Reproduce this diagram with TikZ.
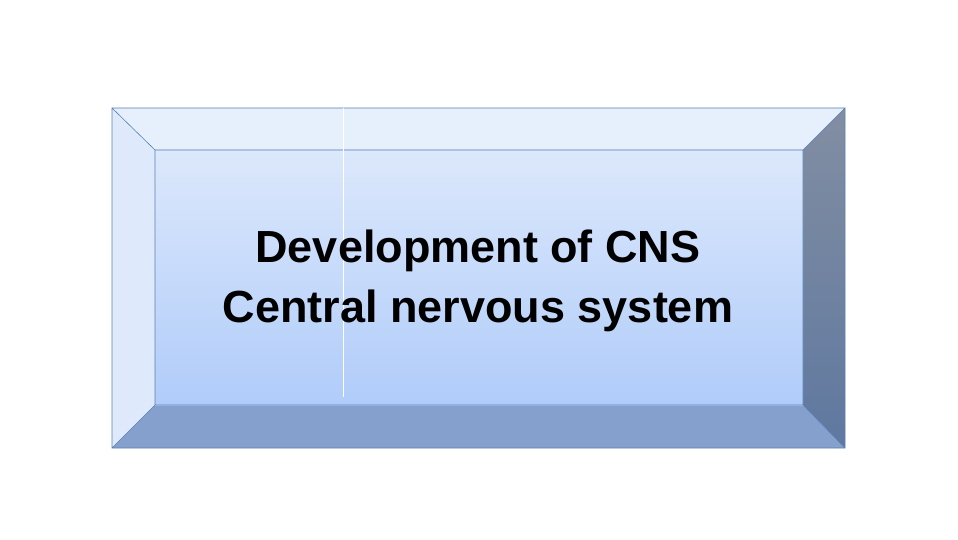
\documentclass[tikz,border=0pt]{standalone}
\usepackage{fontspec}
\setmainfont{Liberation Sans}
\begin{document}
\begin{tikzpicture}[x=1pt,y=-1pt]
\definecolor{edge}{HTML}{5B80B0}
\useasboundingbox (0,0) rectangle (958,540);
\coordinate (A) at (112,108); \coordinate (B) at (845,108);
\coordinate (C) at (845,448); \coordinate (D) at (112,448);
\coordinate (a) at (155,150); \coordinate (b) at (803,150);
\coordinate (c) at (803,405); \coordinate (d) at (155,405);
\fill[color={rgb,255:red,230;green,239;blue,252}] (A)--(B)--(b)--(a)--cycle;
\fill[color={rgb,255:red,222;green,234;blue,252}] (A)--(a)--(d)--(D)--cycle;
\shade[top color={rgb,255:red,130;green,142;blue,162}, bottom color={rgb,255:red,95;green,120;blue,160}] (B)--(C)--(c)--(b)--cycle;
\fill[color={rgb,255:red,133;green,160;blue,204}] (D)--(C)--(c)--(d)--cycle;
\shade[top color={rgb,255:red,220;green,232;blue,251}, bottom color={rgb,255:red,176;green,204;blue,250}] (a) rectangle (c);
\draw[edge,line width=0.6] (A) rectangle (C) (a) rectangle (c) (A)--(a) (B)--(b) (C)--(c) (D)--(d);
\draw[white,line width=0.8] (343,108)--(343,397);
\node[name=t,align=center,font=\fontsize{45}{60}\bfseries\selectfont] at (478,281) {Development of CNS\ \\Central nervous system};
\end{tikzpicture}
\end{document}
